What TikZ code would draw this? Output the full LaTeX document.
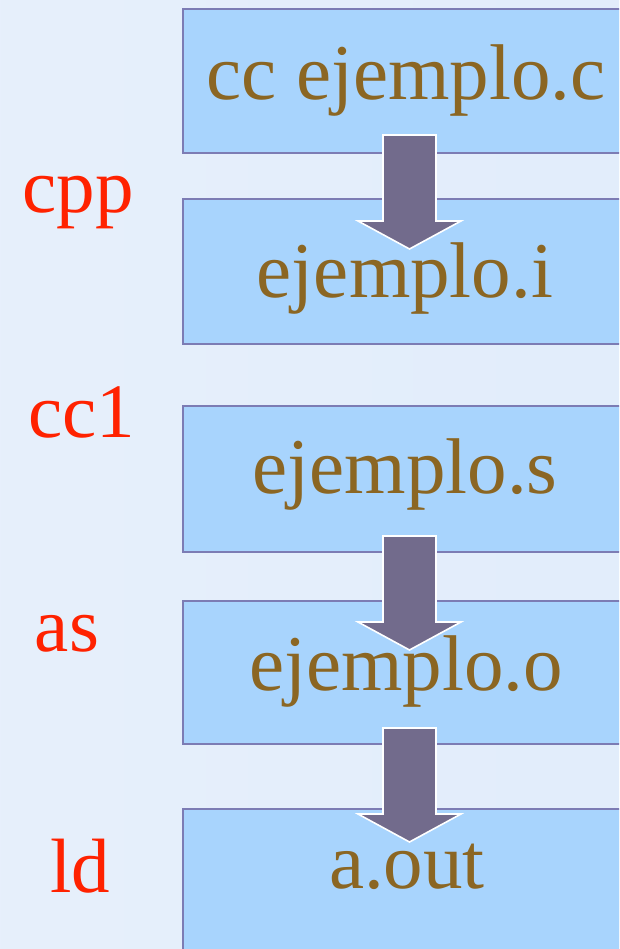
\documentclass[tikz,border=0pt]{standalone}
\usepackage{fontspec}
\setmainfont{Liberation Serif}
\usetikzlibrary{positioning}

\definecolor{bgleft}{RGB}{233,241,252}
\definecolor{bgright}{RGB}{223,235,250}
\definecolor{boxfill}{RGB}{168,212,253}
\definecolor{boxline}{RGB}{124,124,180}
\definecolor{filetext}{RGB}{139,102,35}
\definecolor{tooltext}{RGB}{255,34,0}
\definecolor{arrowfill}{RGB}{114,107,140}

% smooth left-to-right page tint
\pgfdeclarehorizontalshading{pagetint}{100bp}{color(0bp)=(bgleft); color(100bp)=(bgright)}

\tikzset{
  filebox/.style={draw=boxline, line width=1.8pt, fill=boxfill, rectangle,
    anchor=north west, minimum width=460pt, inner sep=0pt},
  filename/.style={text=filetext, anchor=base, inner sep=0pt,
    font=\fontsize{79}{90}\selectfont},
  toolname/.style={text=tooltext, anchor=base, inner sep=0pt,
    font=\fontsize{77}{90}\selectfont},
  blockarrow/.style={fill=arrowfill, draw=white, line width=1.6pt, line join=miter},
  downarrow/.pic={
    \draw[blockarrow] (-26.5,0) -- (26.5,0) -- (26.5,86) -- (51.5,86)
      -- (0,114) -- (-51.5,86) -- (-26.5,86) -- cycle;
  }
}

\begin{document}
\begin{tikzpicture}[x=1pt, y=-1pt]
  \useasboundingbox (0,0) rectangle (619,949);
  \clip (0,0) rectangle (619,949);
  % page background
  \shade[shading=pagetint] (0,0) rectangle (619,949);

  % one box per compilation stage
  \node[filebox, minimum height=144pt] (b1) at (182,8) {};
  \node[filebox, minimum height=145pt] (b2) at (182,198) {};
  \node[filebox, minimum height=146pt] (b3) at (182,405) {};
  \node[filebox, minimum height=143pt] (b4) at (182,600) {};
  \node[filebox, minimum height=160pt] (b5) at (182,808) {};

  % file names
  \node[filename] (t1) at (406,100) {cc ejemplo.c};
  \node[filename] (t2) at (405,297) {ejemplo.i};
  \node[filename] (t3) at (405,493) {ejemplo.s};
  \node[filename] (t4) at (406,690) {ejemplo.o};
  \node[filename] (t5) at (407,888) {a.out};

  % programs run between the stages
  \node[toolname] (cpp) at (78,213) {cpp};
  \node[toolname] (ccone) at (82,437) {cc1};
  \node[toolname] (as) at (67,651) {as};
  \node[toolname] (ld) at (80,892) {ld};

  % block arrows between stages
  \pic at (409.5,135) {downarrow};
  \pic at (409.5,536) {downarrow};
  \pic at (409.5,728) {downarrow};
\end{tikzpicture}
\end{document}
